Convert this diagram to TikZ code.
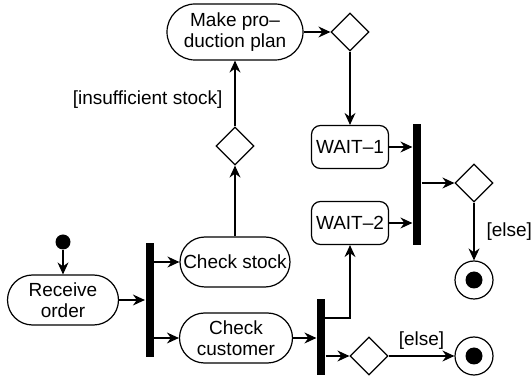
\documentclass[tikz,border=0pt]{standalone}
\usepackage{fontspec}
\setmainfont{Liberation Sans}
\usetikzlibrary{positioning}
\usetikzlibrary{arrows.meta}
\usetikzlibrary{shapes.geometric}

\tikzset{
  action/.style={draw, rounded corners=25pt, minimum height=50pt, inner sep=0pt, align=center},
  waitbox/.style={draw, rounded corners=9pt, minimum width=77pt, minimum height=43pt, inner sep=0pt},
  decision/.style={draw, diamond, minimum width=38pt, minimum height=38pt, inner sep=0pt},
  syncbar/.style={fill=black, minimum width=8pt, inner sep=0pt},
  startdot/.style={circle, fill=black, minimum size=15pt, inner sep=0pt},
  enddot/.style={draw, circle, minimum size=38pt, inner sep=0pt,
    path picture={\fill (path picture bounding box.center) circle (8.5pt);}},
  flow/.style={-{Stealth[length=12pt,width=11pt,inset=4pt]}},
  guard/.style={inner sep=0pt}
}

\begin{document}
\begin{tikzpicture}[x=1pt, y=-1pt, line width=1.2pt, font=\fontsize{19}{21}\selectfont]

  \useasboundingbox (0,0) rectangle (531,379);

  \node[startdot] (start) at (63,242) {};
  \node[action, minimum width=111pt] (recv) at (63,300) {Receive\\order};
  \node[syncbar, minimum height=114pt] (fork) at (149.5,300) {};

  \node[action, minimum width=110pt] (stock) at (235,262) {Check stock};
  \node[action, minimum width=113pt] (cust) at (236,338) {Check\\customer};

  \node[decision] (dstock) at (235,146) {};
  \node[action, minimum width=136pt, minimum height=56pt, rounded corners=28pt] (plan) at (235,32) {Make pro--\\duction plan};
  \node[decision] (dplan) at (350,32) {};

  \node[waitbox] (wait1) at (350,147) {WAIT--1};
  \node[waitbox] (wait2) at (350,223) {WAIT--2};
  \node[syncbar, minimum height=121pt] (join) at (417,184.5) {};
  \node[decision] (djoin) at (474,183) {};
  \node[enddot] (end1) at (474,280) {};

  \node[syncbar, minimum height=76pt] (split) at (321,337) {};
  \coordinate (tap) at (325,318);
  \node[decision] (dcust) at (369,356) {};
  \node[enddot] (end2) at (474,356) {};

  % order flow
  \draw[flow] (start) -- (recv.north);
  \draw[flow] (recv.east) -- (recv.east -| fork.west);
  \draw[flow] (fork.east |- stock.west) -- (stock.west);
  \draw[flow] (fork.east |- cust.west) -- (cust.west);

  % stock branch
  \draw[flow] (stock.north) -- (dstock.south);
  \draw[flow] (dstock.north) -- node[guard, pos=0.4, left=12pt] {[insufficient stock]} (plan.south);
  \draw[flow] (plan.east) -- (dplan.west);
  \draw[flow] (dplan.south) -- (wait1.north);
  \draw[flow] (wait1.east) -- (wait1.east -| join.west);
  \draw[flow] (wait2.east) -- (wait2.east -| join.west);
  \draw[flow] (join.east |- djoin.west) -- (djoin.west);
  \draw[flow] (djoin.south) -- node[guard, right=12pt] {[else]} (end1.north);

  % customer branch
  \draw[flow] (cust.east) -- (cust.east -| split.west);
  \draw[flow] (tap) -| (wait2.south);
  \draw[flow] (split.east |- dcust.west) -- (dcust.west);
  \draw[flow] (dcust.east) -- node[guard, above=6pt] {[else]} (end2.west);

\end{tikzpicture}
\end{document}
